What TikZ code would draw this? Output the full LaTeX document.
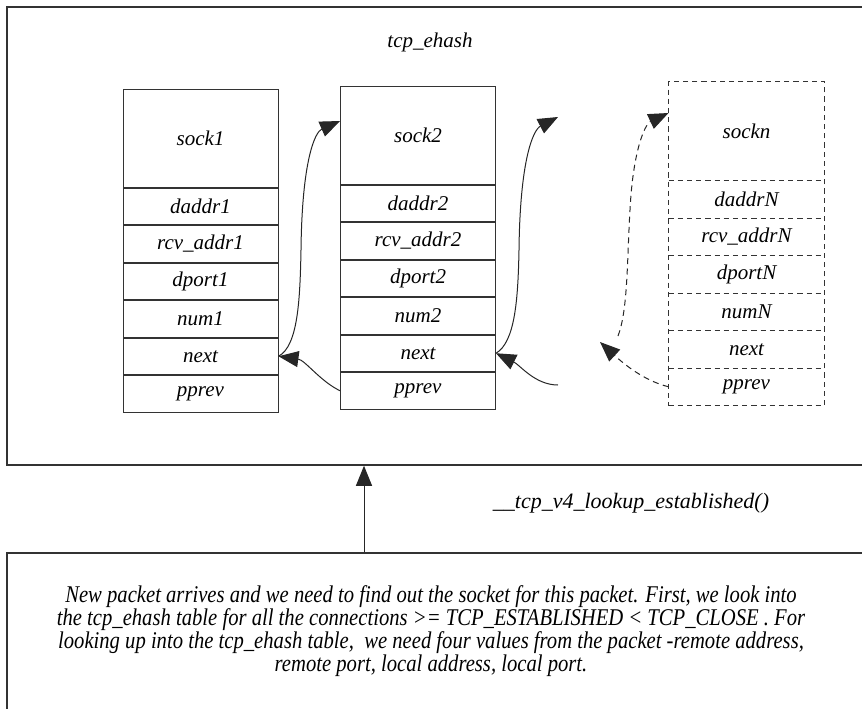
\documentclass[tikz,border=0pt]{standalone}
\usepackage{fontspec}
\setmainfont{Liberation Serif}
\newfontfamily\notefont{Liberation Serif}[FakeStretch=0.86]
\usepackage{tikz}
\usetikzlibrary{positioning,fit,arrows.meta}
\definecolor{linegray}{HTML}{333333}
\tikzset{
headcell/.style={rectangle,draw=linegray,line width=0.5pt,minimum width=77.5pt,
  minimum height=49pt,inner sep=0pt,font=\itshape\fontsize{10.5}{12}\selectfont},
rowcell/.style={rectangle,draw=linegray,line width=0.5pt,minimum width=77.5pt,
  minimum height=18.25pt,inner sep=0pt,font=\itshape\fontsize{10.5}{12}\selectfont},
ghost/.style={draw=none},
dashline/.style={draw=linegray,line width=0.5pt,dash pattern=on 2.6pt off 2pt},
frame/.style={rectangle,draw=linegray,line width=0.75pt,inner sep=0pt},
ptr/.style={-{Triangle[length=10pt,width=8pt]},line width=0.5pt,draw=black!85},
dptr/.style={ptr,dash pattern=on 3pt off 2.2pt}
}

\begin{document}
\begin{tikzpicture}[x=0.5pt,y=-0.5pt]
\useasboundingbox (0,0) rectangle (862,708);
\clip (0,0) rectangle (862,708);
\node[frame,minimum width=437pt,minimum height=229pt] (ehash) at (444,236) {};
\node[font=\itshape\fontsize{10.5}{12}\selectfont] (title) at (430,42) {tcp\_ehash};
% first socket
\node[headcell] (s1h) at (200.5,138) {sock1};
\node[rowcell,below=0pt of s1h] (s1d) {daddr1};
\node[rowcell,below=0pt of s1d] (s1r) {rcv\_addr1};
\node[rowcell,below=0pt of s1r] (s1p) {dport1};
\node[rowcell,below=0pt of s1p] (s1u) {num1};
\node[rowcell,below=0pt of s1u] (s1n) {next};
\node[rowcell,below=0pt of s1n] (s1v) {pprev};
% second socket
\node[headcell] (s2h) at (418,135) {sock2};
\node[rowcell,below=0pt of s2h] (s2d) {daddr2};
\node[rowcell,below=0pt of s2d] (s2r) {rcv\_addr2};
\node[rowcell,below=0pt of s2r] (s2p) {dport2};
\node[rowcell,below=0pt of s2p] (s2u) {num2};
\node[rowcell,below=0pt of s2u] (s2n) {next};
\node[rowcell,below=0pt of s2n] (s2v) {pprev};
% last socket, dashed
\node[headcell,ghost] (sNh) at (746.5,131) {sockn};
\node[rowcell,ghost,below=0pt of sNh] (sNd) {daddrN};
\node[rowcell,ghost,below=0pt of sNd] (sNr) {rcv\_addrN};
\node[rowcell,ghost,below=0pt of sNr] (sNp) {dportN};
\node[rowcell,ghost,below=0pt of sNp] (sNu) {numN};
\node[rowcell,ghost,below=0pt of sNu] (sNn) {next};
\node[rowcell,ghost,below=0pt of sNn] (sNv) {pprev};
\node[fit=(sNh)(sNv),inner sep=0pt,dashline] (sN) {};
\foreach \c in {sNh,sNd,sNr,sNp,sNu,sNn}
  \draw[dashline] (\c.south west) -- (\c.south east);
\coordinate (s2fwd) at (558,117);
\coordinate (s2back) at (558,385);
\coordinate (sNprev) at (600,342);
\coordinate (sNfrom) at (618,336);
\draw[ptr] (s1n.east) .. controls (298,346) and (300,300) .. (301,250)
  .. controls (302,160) and (315,132) .. (s2h.west |- 0,121);
\draw[ptr] (s2v.west) .. controls (320,381) and (305,360) .. (s1n.east);
\draw[ptr] (s2n.east) .. controls (515,342) and (518,300) .. (519,250)
  .. controls (520,160) and (533,130) .. (s2fwd);
\draw[ptr] (s2back) .. controls (535,385) and (520,365) .. (s2n.east);
\draw[dptr] (sNfrom) .. controls (628,310) and (627,260) .. (630,210)
  .. controls (633,150) and (645,124) .. (sNh.west |- 0,113);
\draw[dptr] (sNv.west) .. controls (645,381) and (625,365) .. (sNprev);
% lookup box
\node[frame,minimum width=437pt,minimum height=89pt] (note) at (444,642) {};
\coordinate (lookup) at (364,0);
\draw[ptr] (note.north -| lookup) -- (ehash.south -| lookup);
\node[font=\itshape\fontsize{11}{13}\selectfont] (fn) at (631,503)
  {\_\_tcp\_v4\_lookup\_established()};
\node[font=\notefont\itshape\fontsize{12}{11.5}\selectfont,align=center] (notetext) at (431,631.5)
  {New packet arrives and we need to find out the socket for this packet. First, we look into\\
   the tcp\_ehash table for all the connections >= TCP\_ESTABLISHED < TCP\_CLOSE . For\\
   looking up into the tcp\_ehash table,\ \ we need four values from the packet -remote address,\\
   remote port, local address, local port.};
\end{tikzpicture}
\end{document}
